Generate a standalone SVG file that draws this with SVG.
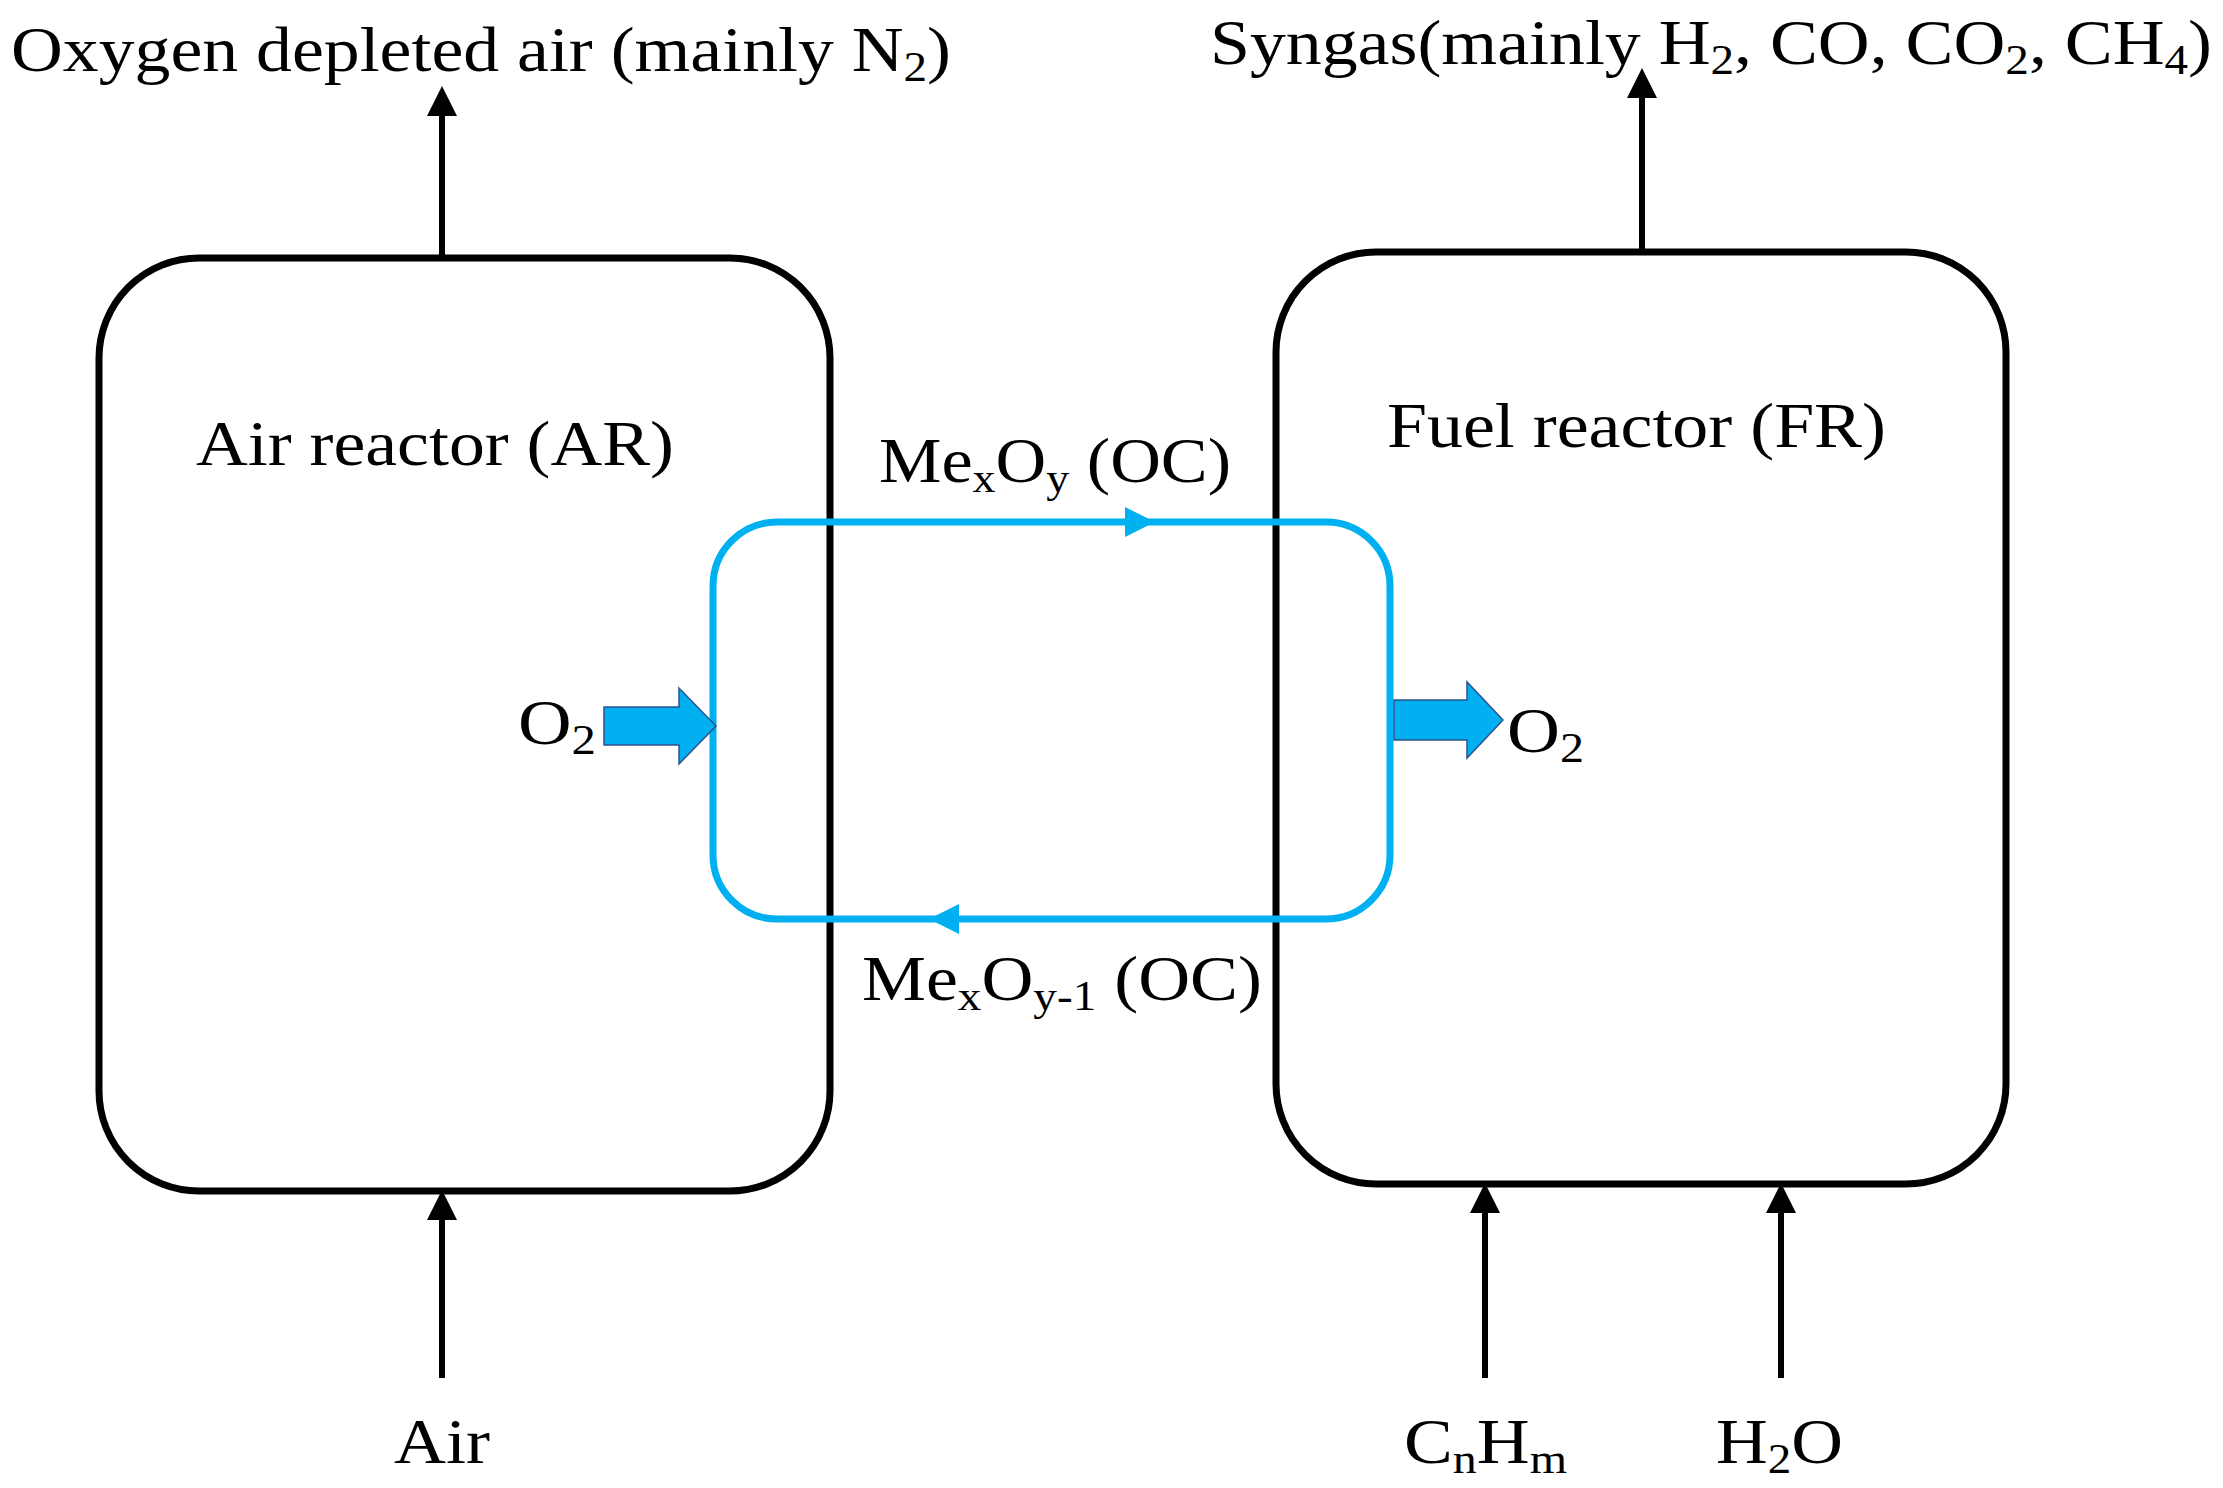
<svg xmlns="http://www.w3.org/2000/svg" width="2223" height="1488" viewBox="0 0 2223 1488">
<style>
text{font-family:"Liberation Serif","Times New Roman",serif;font-size:64px;fill:#000}
.s{font-size:42px}
.box{fill:none;stroke:#000;stroke-width:7}
.ln{stroke:#000;stroke-width:6;fill:none}
.loop{fill:none;stroke:#00B0F0;stroke-width:7}
.blk{fill:#00B0F0;stroke:#2F528F;stroke-width:1.5}
</style>
<defs>
<marker id="ah" markerWidth="5" markerHeight="5" refX="4" refY="2.5" orient="auto" markerUnits="strokeWidth">
<path d="M0,0 L5,2.5 L0,5 z" fill="#000"/></marker>
</defs>
<rect width="2223" height="1488" fill="#fff"/>
<g id="air-reactor"><rect class="box" x="99" y="258" width="731" height="933" rx="100"/>
<text x="196" y="465" textLength="478" lengthAdjust="spacingAndGlyphs">Air reactor (AR)</text></g>
<g id="fuel-reactor"><rect class="box" x="1276" y="252" width="730" height="932" rx="100"/>
<text x="1387" y="447" textLength="499" lengthAdjust="spacingAndGlyphs">Fuel reactor (FR)</text></g>
<g id="connectors">
<rect class="loop" x="713" y="522" width="677" height="397" rx="64"/>
<path d="M1125,507 L1155,522 L1125,537 z" fill="#00B0F0"/>
<path d="M959,904 L929,919 L959,934 z" fill="#00B0F0"/>
<line class="ln" x1="442" y1="255" x2="442" y2="92" marker-end="url(#ah)"/>
<line class="ln" x1="1642" y1="249" x2="1642" y2="74" marker-end="url(#ah)"/>
<line class="ln" x1="442" y1="1378" x2="442" y2="1196" marker-end="url(#ah)"/>
<line class="ln" x1="1485" y1="1378" x2="1485" y2="1189" marker-end="url(#ah)"/>
<line class="ln" x1="1781" y1="1378" x2="1781" y2="1189" marker-end="url(#ah)"/>
<path class="blk" d="M604,707 L679,707 L679,688 L716,726 L679,764 L679,745 L604,745 z"/>
<path class="blk" d="M1394,700 L1467,700 L1467,682 L1503,720 L1467,758 L1467,740 L1394,740 z"/>
</g>
<g id="labels">
<text x="11" y="71" textLength="940" lengthAdjust="spacingAndGlyphs">Oxygen depleted air (mainly N<tspan class="s" dy="10">2</tspan><tspan dy="-10">)</tspan></text>
<text x="1210" y="64" textLength="1002" lengthAdjust="spacingAndGlyphs">Syngas(mainly H<tspan class="s" dy="10">2</tspan><tspan dy="-10">, CO, CO</tspan><tspan class="s" dy="10">2</tspan><tspan dy="-10">, CH</tspan><tspan class="s" dy="10">4</tspan><tspan dy="-10">)</tspan></text>
<text x="879" y="482" textLength="352" lengthAdjust="spacingAndGlyphs">Me<tspan class="s" dy="10">x</tspan><tspan dy="-10">O</tspan><tspan class="s" dy="10">y</tspan><tspan dy="-10"> (OC)</tspan></text>
<text x="862" y="1000" textLength="400" lengthAdjust="spacingAndGlyphs">Me<tspan class="s" dy="10">x</tspan><tspan dy="-10">O</tspan><tspan class="s" dy="10">y-1</tspan><tspan dy="-10"> (OC)</tspan></text>
<text x="518" y="744" textLength="78" lengthAdjust="spacingAndGlyphs">O<tspan class="s" dy="10">2</tspan></text>
<text x="1507" y="752" textLength="77" lengthAdjust="spacingAndGlyphs">O<tspan class="s" dy="10">2</tspan></text>
<text x="394" y="1463" textLength="96" lengthAdjust="spacingAndGlyphs">Air</text>
<text x="1404" y="1463" textLength="163" lengthAdjust="spacingAndGlyphs">C<tspan class="s" dy="10">n</tspan><tspan dy="-10">H</tspan><tspan class="s" dy="10">m</tspan></text>
<text x="1716" y="1463" textLength="127" lengthAdjust="spacingAndGlyphs">H<tspan class="s" dy="10">2</tspan><tspan dy="-10">O</tspan></text>
</g>
</svg>
